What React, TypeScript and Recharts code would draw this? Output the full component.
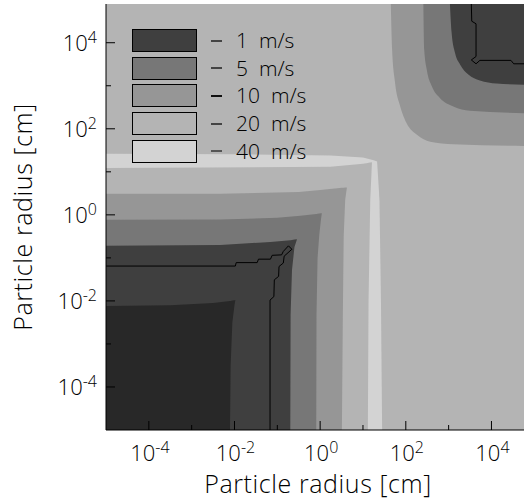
import React from 'react';
import { ComposedChart, Area, Line, XAxis, YAxis, CartesianGrid, Legend, Label } from 'recharts';

// everything is in log10(radius / cm)
const axisDomain: [number, number] = [-5, 4.9];
const decadeTicks = [-4, -3, -2, -1, 0, 1, 2, 3, 4];

const levelNames = ['1 m/s', '5 m/s', '10 m/s', '20 m/s', '40 m/s'];
const levelFills = ['#3f3f3f', '#777777', '#969696', '#b4b4b4', '#d3d3d3'];
const dashColors = ['#444', '#444', '#111', '#444', '#555'];
const slowestFill = '#282828';

// small-particle lobe, one contour each: [x, lower y, upper y]
const lobe40 = [[-5, -5, 1.42], [-2, -5, 1.41], [0.24, -5, 1.38], [1.0, -5, 1.33], [1.25, -5, 1.27], [1.33, -5, 1.24], [1.385, -5, 0.35], [1.42, -5, -2], [1.447, -5, -5]];
const lobe20 = [[-5, -5, 1.086], [0.24, -5, 1.12], [1.0, -5, 1.19], [1.114, -5, 1.205], [1.13, -2, 1.21], [1.17, 0.35, 1.217], [1.21, 1.225, 1.225]];
const lobe10 = [[-5, -5, 0.488], [-2.33, -5, 0.49], [-0.5, -5, 0.53], [0, -5, 0.58], [0.4, -5, 0.62], [0.508, -5, 0.627], [0.53, -2.33, 0.63], [0.55, -0.5, 0.632], [0.585, 0.35, 0.634], [0.625, 0.635, 0.635]];
const lobe5 = [[-5, -5, -0.116], [-2.33, -5, -0.11], [-1, -5, -0.07], [-0.46, -5, -0.02], [-0.091, -5, 0.02], [-0.085, -2.33, 0.022], [-0.06, -1, 0.026], [-0.02, -0.46, 0.032], [0.02, -0.1, 0.038], [0.04, 0.04, 0.04]];
const lobe1 = [[-5, -5, -0.721], [-2.33, -5, -0.7], [-1.16, -5, -0.63], [-0.697, -5, -0.59], [-0.69, -2.33, -0.588], [-0.657, -1.28, -0.582], [-0.6, -0.75, -0.573], [-0.54, -0.565, -0.565]];
const lobe0 = [[-5, -5, -2.116], [-3.5, -5, -2.1], [-2.5, -5, -2.05], [-2.105, -5, -2.0], [-2.09, -3.5, -2.0], [-2.05, -2.5, -1.99], [-2.0, -2.1, -1.985], [-1.98, -1.98, -1.98]];

// large-particle corner, filled from [x, y] up to the top edge
const cap10 = [[1.65, 4.9], [1.68, 3.84], [1.75, 3.06], [1.87, 2.52], [2.02, 2.13], [2.26, 1.86], [2.57, 1.7], [3.11, 1.64], [4.9, 1.6]];
const cap5 = [[2.41, 4.9], [2.43, 3.84], [2.49, 3.37], [2.61, 2.98], [2.8, 2.71], [3.11, 2.52], [3.5, 2.42], [4.9, 2.36]];
const cap1 = [[3.03, 4.9], [3.07, 4.23], [3.15, 3.76], [3.27, 3.49], [3.46, 3.26], [3.73, 3.12], [4.12, 3.05], [4.9, 3.02]];

// thin black contour lines
const edgeLow = [[-5, -1.19], [-1.98, -1.19], [-1.96, -1.11], [-1.47, -1.11], [-1.44, -1.03], [-1.16, -1.03], [-1.12, -0.94], [-0.9, -0.93], [-0.86, -0.85], [-0.74, -0.72], [-0.66, -0.8], [-0.84, -0.96], [-0.86, -1.12], [-0.96, -1.2], [-0.97, -1.43], [-1.07, -1.51], [-1.08, -1.9], [-1.17, -1.98], [-1.17, -5]];
const edgeHigh = [[3.53, 4.9], [3.54, 4.5], [3.64, 4.44], [3.64, 3.68], [3.53, 3.6], [3.64, 3.51], [3.73, 3.59], [4.455, 3.59], [4.52, 3.51], [4.9, 3.51]];

const FONT = "'Open Sans', 'DejaVu Sans', sans-serif";
const WEIGHT = 300;
const TOP = axisDomain[1];

const lobeRows = (rows: number[][]) => rows.map(([x, lo, hi]) => ({ x, v: [lo, hi] }));
const capRows = (rows: number[][]) => rows.map(([x, lo]) => ({ x, v: [lo, TOP] }));
const lineRows = (rows: number[][]) => rows.map(([x, y]) => ({ x, y }));

const isMajor = (v: number) => v % 2 === 0;
const expText = (v: number) => (v < 0 ? `-${-v}` : `${v}`);

const BottomTick = ({ x, y, payload }: any) => {
  const v = payload.value;
  return (
    <g>
      <line x1={x} y1={y} x2={x} y2={y - (isMajor(v) ? 9 : 5)} stroke="#000" />
      {isMajor(v) && (
        <text x={x + 1} y={y + 31} textAnchor="middle" fontFamily={FONT} fontWeight={WEIGHT} fontSize={22} fill="#000">
          10<tspan fontSize={16} dy={-8}>{expText(v)}</tspan>
        </text>
      )}
    </g>
  );
};

const LeftTick = ({ x, y, payload }: any) => {
  const v = payload.value;
  return (
    <g>
      <line x1={x} y1={y} x2={x + (isMajor(v) ? 9 : 5)} y2={y} stroke="#000" />
      {isMajor(v) && (
        <text x={x - 9} y={y + 8.5} textAnchor="end" fontFamily={FONT} fontWeight={WEIGHT} fontSize={22} fill="#000">
          10<tspan fontSize={16} dy={-8}>{expText(v)}</tspan>
        </text>
      )}
    </g>
  );
};

const TopTick = ({ x, y, payload }: any) => (
  <line x1={x} y1={y} x2={x} y2={y + (isMajor(payload.value) ? 9 : 5)} stroke="#000" />
);

const RightTick = ({ x, y, payload }: any) => (
  <line x1={x} y1={y} x2={x - (isMajor(payload.value) ? 9 : 5)} y2={y} stroke="#000" />
);

const LevelKey = () => (
  <div style={{ fontFamily: FONT, fontWeight: WEIGHT, fontSize: 21, color: '#000' }}>
    {levelNames.map((name, i) => (
      <div key={name} style={{ display: 'flex', alignItems: 'center', height: 23, marginBottom: 4.7 }}>
        <div style={{ width: 65, height: 23, boxSizing: 'border-box', border: '1px solid #000', background: levelFills[i] }} />
        <div style={{ width: 11, height: 2, marginLeft: 14, background: dashColors[i] }} />
        <div style={{ marginLeft: 14, lineHeight: '23px', whiteSpace: 'pre' }}>{name.replace(' ', '  ')}</div>
      </div>
    ))}
  </div>
);

export default function App() {
  const fills = [
    { rows: lobe40, fill: levelFills[4] },
    { rows: lobe20, fill: levelFills[3] },
    { rows: lobe10, fill: levelFills[2] },
    { rows: lobe5, fill: levelFills[1] },
    { rows: lobe1, fill: levelFills[0] },
    { rows: lobe0, fill: slowestFill },
  ];
  const caps = [
    { rows: cap10, fill: levelFills[2] },
    { rows: cap5, fill: levelFills[1] },
    { rows: cap1, fill: levelFills[0] },
  ];
  return (
    <div style={{ position: 'absolute', left: 0, top: 0, width: 524, height: 500, overflow: 'hidden', background: '#fff' }}>
      <ComposedChart width={560} height={500} margin={{ top: 4, right: 30, bottom: 0, left: 0 }}>
        <CartesianGrid horizontal={false} vertical={false} fill={levelFills[3]} stroke="none" />
        {fills.map((f, i) => (
          <Area key={`lobe${i}`} data={lobeRows(f.rows)} dataKey="v" type="linear" fill={f.fill} fillOpacity={1} stroke="none" isAnimationActive={false} />
        ))}
        {caps.map((f, i) => (
          <Area key={`cap${i}`} data={capRows(f.rows)} dataKey="v" type="monotone" fill={f.fill} fillOpacity={1} stroke="none" isAnimationActive={false} />
        ))}
        <Line data={lineRows(edgeLow)} dataKey="y" type="linear" stroke="#000" strokeWidth={1} dot={false} isAnimationActive={false} />
        <Line data={lineRows(edgeHigh)} dataKey="y" type="linear" stroke="#000" strokeWidth={1} dot={false} isAnimationActive={false} />
        <XAxis dataKey="x" type="number" domain={axisDomain} allowDataOverflow ticks={decadeTicks} interval={0}
          height={70} tickSize={0} tickMargin={0} tick={<BottomTick />} axisLine={{ stroke: '#000' }}>
          <Label value="Particle radius [cm]" position="insideBottom" offset={7} fontFamily={FONT} fontWeight={WEIGHT} fontSize={25} letterSpacing={0.6} fill="#000" />
        </XAxis>
        <XAxis xAxisId="top" orientation="top" dataKey="x" type="number" domain={axisDomain} allowDataOverflow ticks={decadeTicks}
          interval={0} height={0} tickSize={0} tickMargin={0} tick={<TopTick />} axisLine={{ stroke: '#000' }} />
        <YAxis type="number" domain={axisDomain} allowDataOverflow ticks={decadeTicks} interval={0}
          width={106} tickSize={0} tickMargin={0} tick={<LeftTick />} axisLine={{ stroke: '#000' }}>
          <Label value="Particle radius [cm]" angle={-90} position="insideLeft" offset={23} fontFamily={FONT} fontWeight={WEIGHT} fontSize={25} letterSpacing={0.6} fill="#000" style={{ textAnchor: 'middle' }} />
        </YAxis>
        <YAxis yAxisId="right" orientation="right" type="number" domain={axisDomain} allowDataOverflow ticks={decadeTicks}
          interval={0} width={0} tickSize={0} tickMargin={0} tick={<RightTick />} axisLine={{ stroke: '#000' }} />
        <Legend content={<LevelKey />} layout="vertical" align="center" verticalAlign="middle"
          wrapperStyle={{ left: 132, top: 29, width: 220, height: 140 }} />
      </ComposedChart>
    </div>
  );
}
